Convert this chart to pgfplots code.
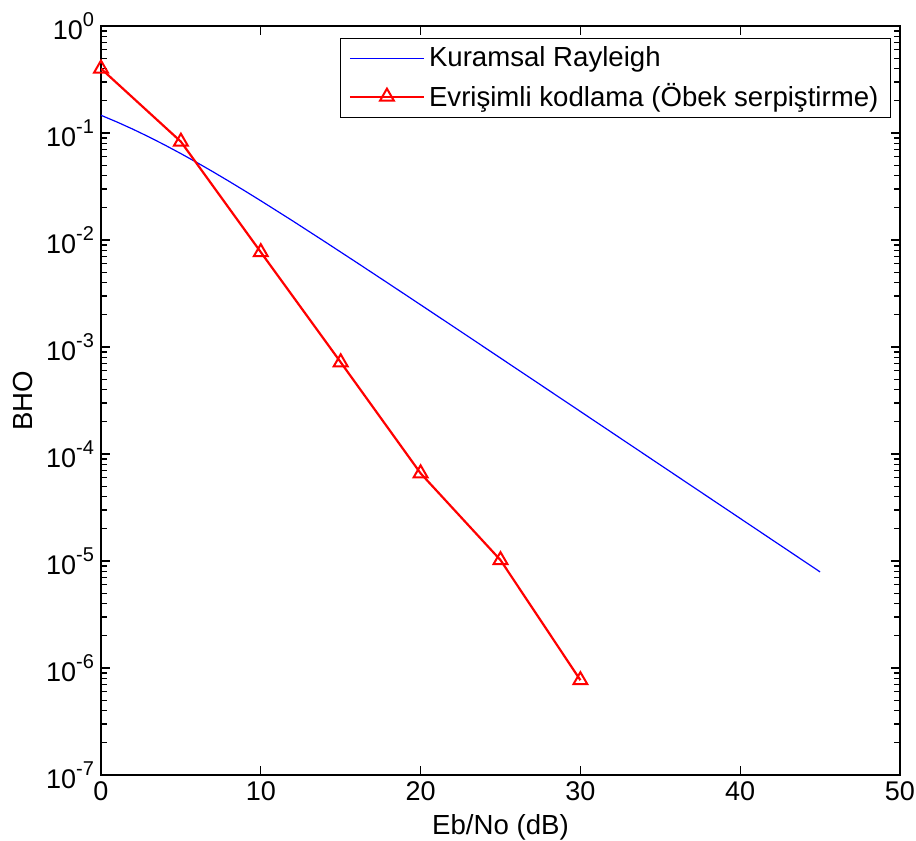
\documentclass[border=0pt]{standalone}
\usepackage{fontspec}
\setmainfont{Liberation Sans}
\usepackage{pgfplots}
\pgfplotsset{compat=1.18}
\newcommand{\tl}[1]{10\raisebox{0.9ex}{\fontsize{10}{12}\selectfont #1}}
\begin{document}
\begin{tikzpicture}
\useasboundingbox (-50.5pt,-33pt) rectangle (407.5pt,387.5pt);
\begin{axis}[
  at={(0,0)}, anchor=south west,
  scale only axis, width=399.5pt, height=374.5pt,
  xmin=0, xmax=50, ymode=log, ymin=1e-7, ymax=1,
  xtick={0,10,20,30,40,50},
  xticklabels={0,10,20,30,40,50},
  ytick={1e-7,1e-6,1e-5,1e-4,1e-3,1e-2,1e-1,1},
  yticklabels={\tl{-7},\tl{-6},\tl{-5},\tl{-4},\tl{-3},\tl{-2},\tl{-1},\tl{0}},
  extra y ticks={2e-7,3e-7,4e-7,5e-7,6e-7,7e-7,8e-7,9e-7,
    2e-6,3e-6,4e-6,5e-6,6e-6,7e-6,8e-6,9e-6,
    2e-5,3e-5,4e-5,5e-5,6e-5,7e-5,8e-5,9e-5,
    2e-4,3e-4,4e-4,5e-4,6e-4,7e-4,8e-4,9e-4,
    2e-3,3e-3,4e-3,5e-3,6e-3,7e-3,8e-3,9e-3,
    2e-2,3e-2,4e-2,5e-2,6e-2,7e-2,8e-2,9e-2,
    0.2,0.3,0.4,0.5,0.6,0.7,0.8,0.9},
  extra y tick labels={},
  extra y tick style={major tick length=3pt, tick style={draw=black, line width=0.6pt}},
  tick pos=both,
  tick align=inside,
  major tick length=4.5pt, minor tick length=3pt,
  tick style={draw=black, line width=0.6pt},
  axis line style={line width=0.6pt},
  ticklabel style={font=\fontsize{13.5}{15}\selectfont},
  label style={font=\fontsize{13.8}{16}\selectfont},
  xlabel={Eb/No (dB)}, ylabel={BHO},
  legend cell align=left,
  legend style={font=\fontsize{13.8}{16}\selectfont, at={(1,1)}, anchor=north east,
    xshift=-4.5pt, yshift=-6pt, draw=black, line width=0.6pt, row sep=3pt, inner xsep=4pt},
  legend image code/.code={\draw[mark repeat=2,mark phase=2] plot coordinates {(0cm,0cm) (0.65cm,0cm) (1.3cm,0cm)};},
]
\addplot[blue, line width=0.6pt] coordinates {
(0,0.14645) (1,0.12673) (2,0.10849) (3,0.09192) (4,0.07714) (5,0.06418)
(6,0.05300) (7,0.04348) (8,0.03546) (9,0.02878) (10,0.02327) (12,0.01507)
(14,0.00966) (16,0.006162) (18,0.003915) (20,0.002481) (22.5,0.0013999)
(25,0.0007887) (27.5,0.00044398) (30,0.0002498) (35,7.904e-5) (40,2.4998e-5) (45,7.905e-6)
};
\addlegendentry{Kuramsal Rayleigh}
\addplot[red, line width=1.1pt, mark=triangle, mark size=4pt, mark options={line width=1pt}] coordinates {
(0,0.40) (5,0.083) (10,0.0077) (15,7.2e-4) (20,6.6e-5) (25,1.02e-5) (30,7.7e-7)
};
\addlegendentry{Evrişimli kodlama (Öbek serpiştirme)}
\end{axis}
\end{tikzpicture}
\end{document}
